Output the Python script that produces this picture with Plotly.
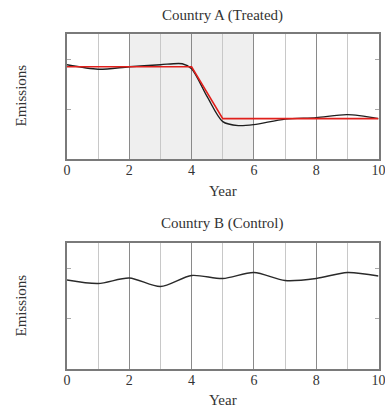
import plotly.graph_objects as go

# Country A (treated) observed emissions
years_a = [0, 1, 2, 3, 3.7, 4, 4.5, 5, 5.5, 6, 7, 8, 9, 10]
emis_a = [1.89, 1.80, 1.85, 1.89, 1.91, 1.81, 1.25, 0.75, 0.67, 0.69, 0.80, 0.83, 0.89, 0.81]
# Stylised treatment effect path (red)
years_fit = [0, 4, 5, 10]
emis_fit = [1.85, 1.85, 0.81, 0.81]
# Country B (control)
years_b = [0, 1, 2, 3, 4, 5, 6, 7, 8, 9, 10]
emis_b = [1.77, 1.70, 1.81, 1.64, 1.86, 1.80, 1.92, 1.76, 1.80, 1.92, 1.85]
# Shaded treatment window
shade_start, shade_end = 2, 6

FONT = "Liberation Serif"
W, H = 385, 407

fig = go.Figure()
fig.add_trace(go.Scatter(x=years_a, y=emis_a, mode="lines", line=dict(color="#1e1e1e", width=1.4, shape="spline", smoothing=0.8),
                         xaxis="x", yaxis="y", showlegend=False))
fig.add_trace(go.Scatter(x=years_fit, y=emis_fit, mode="lines", line=dict(color="#e0201c", width=1.6),
                         xaxis="x", yaxis="y", showlegend=False))
fig.add_trace(go.Scatter(x=years_b, y=emis_b, mode="lines", line=dict(color="#2a2a2a", width=1.4, shape="spline", smoothing=0.8),
                         xaxis="x2", yaxis="y2", showlegend=False))

xdom = [67 / W, 378.5 / W]
ydomA = [(H - 159) / H, (H - 34.3) / H]
ydomB = [(H - 369) / H, (H - 243.3) / H]

def xaxis(anchor):
    return dict(domain=xdom, anchor=anchor, range=[0, 10], tickvals=[0, 2, 4, 6, 8, 10],
                showgrid=True, gridcolor="#8a8a8a", gridwidth=1,
                minor=dict(dtick=1, tick0=0, showgrid=True, gridcolor="#c8c8c8", gridwidth=1),
                showline=True, mirror=True, linecolor="#7a7a7a", linewidth=1.5,
                ticks="", zeroline=False, automargin=False, ticklabelstandoff=-3,
                ticklabeloverflow="allow",
                tickfont=dict(family=FONT, size=14, color="#333"))

def yaxis(anchor, dom):
    return dict(domain=dom, anchor=anchor, range=[0, 2.5], tickvals=[1, 2], showticklabels=False,
                ticks="inside", ticklen=4, tickcolor="#aaa", showgrid=False, zeroline=False,
                automargin=False,
                showline=True, mirror="ticks", linecolor="#7a7a7a", linewidth=1.5)

fig.update_layout(
    width=W, height=H, margin=dict(l=0, r=0, t=0, b=0),
    paper_bgcolor="white", plot_bgcolor="white",
    xaxis=xaxis("y"), yaxis=yaxis("x", ydomA),
    xaxis2=xaxis("y2"), yaxis2=yaxis("x2", ydomB),
    shapes=[dict(type="rect", xref="x", yref="y domain", x0=shade_start, x1=shade_end, y0=0, y1=1,
                 fillcolor="#efefef", line=dict(width=0), layer="below")],
    font=dict(family=FONT, color="#333"),
)

cx = (67 + 378) / 2 / W
ann = [
    ("Country A (Treated)", cx, (H - 15) / H, 0),
    ("Country B (Control)", cx, (H - 223.5) / H, 0),
    ("Year", cx, (H - 190.5) / H, 0),
    ("Year", cx, (H - 399.5) / H, 0),
    ("Emissions", 20.5 / W, (H - 96) / H, -90),
    ("Emissions", 20.5 / W, (H - 306) / H, -90),
]
for text, x, y, ang in ann:
    fig.add_annotation(text=text, x=x, y=y, xref="paper", yref="paper", showarrow=False,
                       textangle=ang, xanchor="center", yanchor="middle",
                       font=dict(family=FONT, size=15, color="#333"))

fig.write_html("out.html")
